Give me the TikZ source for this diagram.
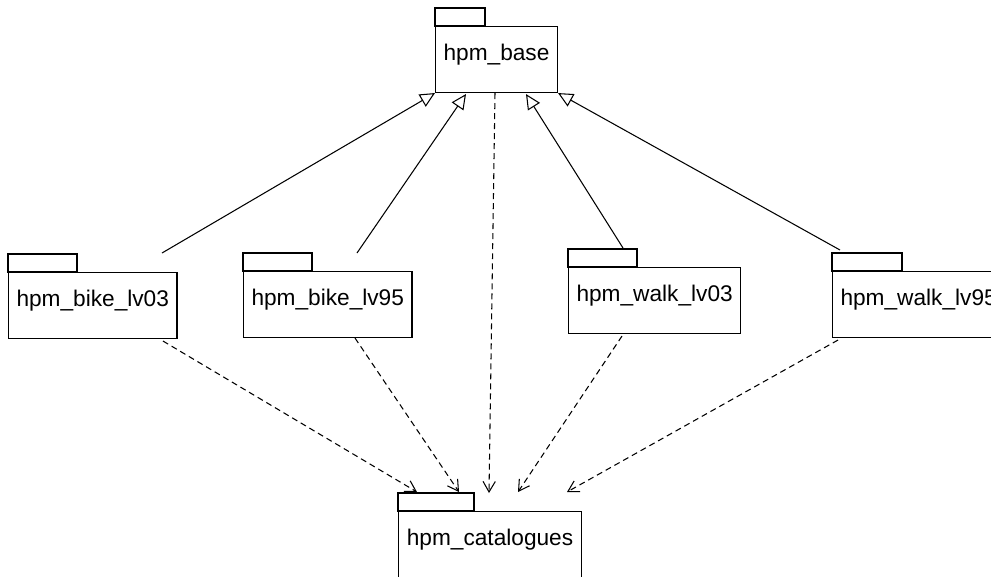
\documentclass[tikz,border=0pt]{standalone}
\usepackage{fontspec}
\setmainfont{Liberation Sans}
\usepackage{tikz}
\usetikzlibrary{arrows.meta,calc}

\begin{document}
\begin{tikzpicture}[
  x=0.02cm, y=-0.02cm,
  pkg/.style={rectangle, draw, line width=0.6pt, anchor=north west,
              inner xsep=0.16cm, inner ysep=0pt, text height=0.68cm,
              text depth=0.64cm, font=\fontsize{12.9}{15}\selectfont},
  pkgline/.style={draw, line width=0.6pt},
  gen/.style={-{Triangle[open, length=8.5pt, width=8pt]}, line width=0.6pt},
  dep/.style={-{Straight Barb[length=6pt, width=7pt]}, line width=0.6pt,
              dash pattern=on 3.4pt off 2.3pt},
]
\useasboundingbox (0,0) rectangle (991,576);
\clip (0,0) rectangle (991,576);

% Packages
\node[pkg, minimum width=2.44cm] (base) at (435,26) {hpm\_base};
\node[pkg, minimum width=3.34cm] (bike03) at (8,272) {hpm\_bike\_lv03};
\node[pkg, minimum width=3.34cm] (bike95) at (243,271) {hpm\_bike\_lv95};
\node[pkg, minimum width=3.4cm] (walk03) at (568,267) {hpm\_walk\_lv03};
\node[pkg, minimum width=3.4cm] (walk95) at (832,271) {hpm\_walk\_lv95};
\node[pkg, minimum width=3.66cm] (cat) at (398,511) {hpm\_catalogues};

% Tabs
\foreach \n/\w in {base/50, bike03/69, bike95/69, walk03/69, walk95/70, cat/76}
  \draw[pkgline] (\n.north west) rectangle ++(\w,-18);

% Line ends
\coordinate (bike03up) at ($(bike03.north west)+(154,-19)$);
\coordinate (bike95up) at ($(bike95.north west)+(114,-18)$);
\coordinate (walk03up) at ($(walk03.north west)+(55,-19)$);
\coordinate (walk95up) at ($(walk95.north west)+(8,-21)$);
\coordinate (base2) at ($(base.south west)+(31,1)$);
\coordinate (base3) at ($(base.south west)+(60,0)$);
\coordinate (base4) at ($(base.south west)+(91,1)$);
\coordinate (bike03dn) at ($(bike03.south west)+(155,2)$);
\coordinate (bike95dn) at ($(bike95.south west)+(112,0)$);
\coordinate (walk03dn) at ($(walk03.south west)+(54,2)$);
\coordinate (walk95dn) at ($(walk95.south west)+(6,2)$);
\coordinate (cat1) at ($(cat.north west)+(19,-19)$);
\coordinate (cat2) at ($(cat.north west)+(61,-19)$);
\coordinate (cat3) at ($(cat.north west)+(91,-18)$);
\coordinate (cat4) at ($(cat.north west)+(120,-19)$);
\coordinate (cat5) at ($(cat.north west)+(169,-19)$);

% Generalizations
\draw[gen] (bike03up) -- (base.south west);
\draw[gen] (bike95up) -- (base2);
\draw[gen] (walk03up) -- (base4);
\draw[gen] (walk95up) -- (base.south east);

% Dependencies
\draw[dep] (bike03dn) -- (cat1);
\draw[dep] (bike95dn) -- (cat2);
\draw[dep] (base3) -- (cat3);
\draw[dep] (walk03dn) -- (cat4);
\draw[dep] (walk95dn) -- (cat5);

\end{tikzpicture}
\end{document}
